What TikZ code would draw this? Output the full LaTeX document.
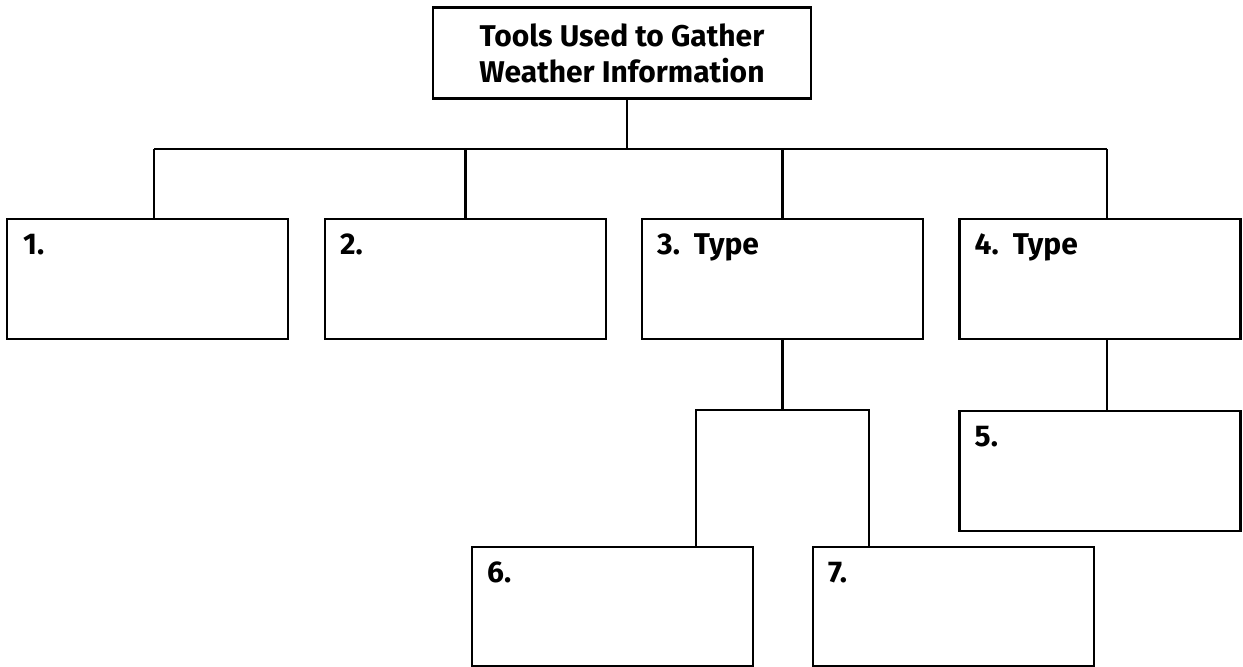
\documentclass[tikz,border=0pt]{standalone}
\usepackage{fontspec}
\setmainfont{Fira Sans}
\usetikzlibrary{calc}

\tikzset{
  box/.style={draw, line width=1.2pt, minimum width=140.5pt, minimum height=60pt, inner sep=0pt},
  num/.style={anchor=base west, inner sep=0pt, font=\fontsize{15}{18}\selectfont\bfseries},
  link/.style={line width=1.2pt},
}

\begin{document}
\begin{tikzpicture}[x=0.5pt, y=-0.5pt]
\useasboundingbox (0,0) rectangle (1243,667);
% title
\node[box, minimum width=189pt, minimum height=45.5pt, align=center,
  font=\fontsize{15}{18}\selectfont\bfseries] (top) at (622,53)
  {Tools Used to Gather\\Weather Information};
% first row
\node[box] (b1) at (147.5,279) {};
\node[box] (b2) at (465.5,279) {};
\node[box] (b3) at (782.5,279) {};
\node[box] (b4) at (1100,279) {};
% lower boxes
\node[box] (b5) at (1100,471) {};
\node[box, minimum height=59.5pt] (b6) at (612.5,606.5) {};
\node[box, minimum height=59.5pt] (b7) at (953.5,606.5) {};
% numbers
\node[num] (n1) at ($(b1.north west)+(17,37)$) {1.};
\node[num] (n2) at ($(b2.north west)+(16,37)$) {2.};
\node[num] (n3) at ($(b3.north west)+(16,37)$) {3.\hspace{7pt}Type};
\node[num] (n4) at ($(b4.north west)+(16,37)$) {4.\hspace{7pt}Type};
\node[num] (n5) at ($(b5.north west)+(16,37)$) {5.};
\node[num] (n6) at ($(b6.north west)+(16,37)$) {6.};
\node[num] (n7) at ($(b7.north west)+(16,37)$) {7.};
% connectors
\coordinate (bl) at (154,149);
\coordinate (br) at (1107,149);
\coordinate (tc) at (627,149);
\coordinate (ml) at (696,410);
\coordinate (mr) at (869,410);
\draw[link] (tc |- top.south) -- (tc);
\draw[link] (bl) -- (br);
\draw[link] (bl) -- (bl |- b1.north);
\draw[link] (b2.north |- bl) -- (b2.north);
\draw[link] (b3.north |- bl) -- (b3.north);
\draw[link] (br) -- (br |- b4.north);
\draw[link] (br |- b4.south) -- (br |- b5.north);
\draw[link] (b3.south) -- (b3.south |- ml);
\draw[link] (ml |- b6.north) -- (ml) -- (mr) -- (mr |- b7.north);
\end{tikzpicture}
\end{document}
